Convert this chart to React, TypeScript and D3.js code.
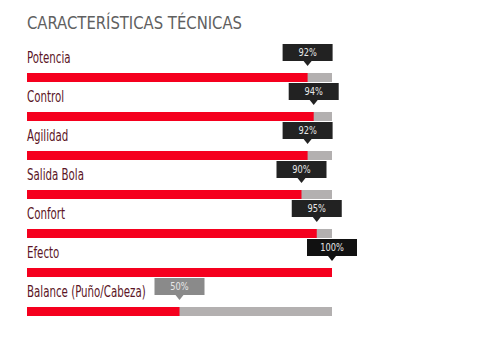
import React from 'react';
import * as d3 from 'd3';

const categories = ['Potencia', 'Control', 'Agilidad', 'Salida Bola', 'Confort', 'Efecto', 'Balance (Puño/Cabeza)'];
const values = [92, 94, 92, 90, 95, 100, 50];
const title = 'CARACTERÍSTICAS TÉCNICAS';

const width = 493;
const height = 360;
const font = '"DejaVu Sans Condensed", "DejaVu Sans", sans-serif';

export default function App() {
  const x = d3.scaleLinear().domain([0, 100]).range([27, 332]);
  const y = d3.scaleBand<string>().domain(categories).range([73, 73 + 39 * categories.length]);
  const barH = 9;
  const boxW = 50;
  const boxH = 17;

  return (
    <svg width={width} height={height} style={{ position: 'absolute', left: 0, top: 0, background: '#fff' }}>
      <text
        transform="translate(27,29) scale(0.97,1)"
        fontFamily={font}
        fontSize={17}
        fill="#606060"
      >
        {title}
      </text>
      {categories.map((c, i) => {
        const top = y(c)!;
        const v = values[i];
        const end = x(v);
        const boxTop = top - 29;
        const boxFill = v === 100 ? '#111' : v < 60 ? '#8a8a8a' : '#222';
        return (
          <g key={c}>
            <text
              transform={`translate(27,${top - 10}) scale(0.76,1)`}
              fontFamily={font}
              fontSize={15}
              fill="#5b1526"
            >
              {c}
            </text>
            <rect x={x(0)} y={top} width={x(100) - x(0)} height={barH} fill="#b3b0b0" />
            <rect x={x(0)} y={top} width={end - x(0)} height={barH} fill="#f5001e" />
            <rect x={end - boxW / 2} y={boxTop} width={boxW} height={boxH} fill={boxFill} />
            <path
              d={`M${end - 4},${boxTop + boxH} L${end + 4},${boxTop + boxH} L${end},${boxTop + boxH + 5} Z`}
              fill={boxFill}
            />
            <text
              transform={`translate(${end},${boxTop + 12}) scale(0.92,1)`}
              textAnchor="middle"
              fontFamily={font}
              fontSize={10}
              fill="#e8e8e8"
            >
              {v}%
            </text>
          </g>
        );
      })}
    </svg>
  );
}
